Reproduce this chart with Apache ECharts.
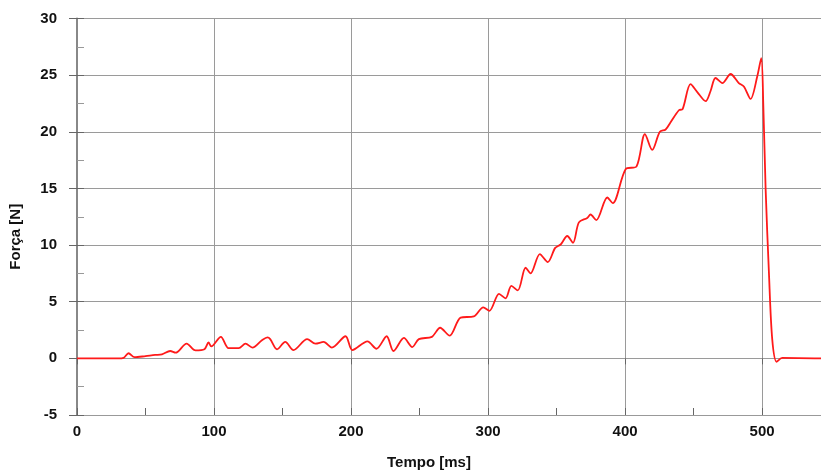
<!DOCTYPE html>
<html>
<head>
<meta charset="utf-8">
<script src="https://cdn.jsdelivr.net/npm/echarts@6/dist/echarts.min.js"></script>
<style>
  html, body { margin: 0; padding: 0; background: #fff; }
  #chart { width: 821px; height: 475px; }
</style>
</head>
<body>
<div id="chart"></div>
<script>
// time in ms
const tempo = [
  0, 30, 34, 37.6, 42, 50, 57, 62, 68, 72, 80, 86.5, 93, 96, 98, 105, 110.6, 118, 123, 128,
  135, 139, 141, 146, 152, 158, 168, 174, 180, 186, 196, 201, 212, 218.6, 226, 231, 238.6, 244.7, 249.5, 259,
  265, 272, 280, 289.6, 296.5, 301, 308, 312.8, 317, 321.7, 327.4, 331, 337.8, 343.6, 349, 353, 357.8, 362, 366.3, 372.4,
  374.8, 379, 387, 391, 400.4, 408.4, 414.5, 419.8, 425.4, 429.6, 433, 439.3, 442, 447.8, 452.7, 458.8, 462.4, 466, 471, 477,
  483, 486.7, 491.6, 496.5, 499.4, 500.9, 502.6, 505, 507.4, 510.6, 514.7, 545
]
// force in N
const forca = [
  0, 0, 0.05, 0.45, 0.1, 0.2, 0.3, 0.35, 0.65, 0.5, 1.3, 0.7, 0.8, 1.4, 1.05, 1.9, 0.9, 0.9, 1.3, 0.95,
  1.6, 1.85, 1.7, 0.8, 1.45, 0.73, 1.7, 1.3, 1.45, 0.95, 1.95, 0.73, 1.5, 0.85, 1.95, 0.65, 1.8, 1.0, 1.7, 1.9,
  2.7, 2.0, 3.6, 3.7, 4.5, 4.2, 5.7, 5.3, 6.4, 6.0, 8.0, 7.5, 9.2, 8.5, 9.75, 10.05, 10.8, 10.2, 12.0, 12.4,
  12.7, 12.2, 14.2, 13.7, 16.7, 16.95, 19.8, 18.4, 20.0, 20.2, 20.8, 21.9, 22.0, 24.2, 23.5, 22.7, 23.6, 24.75, 24.3, 25.1,
  24.3, 24.0, 22.9, 24.9, 26.5, 22.3, 14.9, 7.55, 1.7, -0.3, 0.05, 0
]

const xTitle = 'Tempo [ms]'
const yTitle = 'Força [N]'

const labelFont = { color: '#111', fontFamily: 'Liberation Sans', fontWeight: 'bold', fontSize: 15 }

let chart = echarts.init(document.getElementById('chart'), null, { renderer: 'canvas' })

chart.setOption({
  animation: false,
  grid: { left: 77, right: 0, top: 18.5, bottom: 57.3 },
  xAxis: [
    {
      type: 'value',
      min: 0,
      max: 543,
      interval: 100,
      name: xTitle,
      nameLocation: 'middle',
      nameGap: 40,
      nameTextStyle: { ...labelFont, padding: [0, 40, 0, 0] },
      axisLine: { show: true, onZero: false, lineStyle: { color: '#999', width: 1 } },
      axisTick: { show: true, inside: true, length: 7, lineStyle: { color: '#666' } },
      minorTick: { show: true, splitNumber: 2, length: 7, lineStyle: { color: '#666' } },
      axisLabel: { ...labelFont, margin: 9, showMaxLabel: false },
      splitLine: { show: true, lineStyle: { color: '#9a9a9a', width: 1 } }
    },
    {
      // outside part of the major ticks
      type: 'value',
      position: 'bottom',
      min: 0,
      max: 543,
      interval: 100,
      axisLine: { show: false },
      axisTick: { show: true, length: 6, lineStyle: { color: '#666' } },
      axisLabel: { show: false },
      splitLine: { show: false }
    }
  ],
  yAxis: [
    {
      type: 'value',
      min: -5,
      max: 30,
      interval: 5,
      name: yTitle,
      nameLocation: 'middle',
      nameGap: 54,
      nameTextStyle: { ...labelFont, padding: [0, 40, 0, 0] },
      axisLine: { show: true, onZero: false, lineStyle: { color: '#888', width: 2 } },
      axisTick: { show: true, inside: true, length: 7, lineStyle: { color: '#666' } },
      minorTick: { show: true, splitNumber: 2, length: 7, lineStyle: { color: '#999' } },
      axisLabel: { ...labelFont, margin: 20 },
      splitLine: { show: true, lineStyle: { color: '#9a9a9a', width: 1 } }
    },
    {
      type: 'value',
      position: 'left',
      min: -5,
      max: 30,
      interval: 5,
      axisLine: { show: false },
      axisTick: { show: true, length: 8, lineStyle: { color: '#666' } },
      axisLabel: { show: false },
      splitLine: { show: false }
    }
  ],
  series: [
    {
      type: 'line',
      data: tempo.map((t, i) => [t, forca[i]]),
      showSymbol: false,
      smooth: 0.3,
      lineStyle: { color: '#ff1a1a', width: 1.8 }
    }
  ]
})
</script>
</body>
</html>
